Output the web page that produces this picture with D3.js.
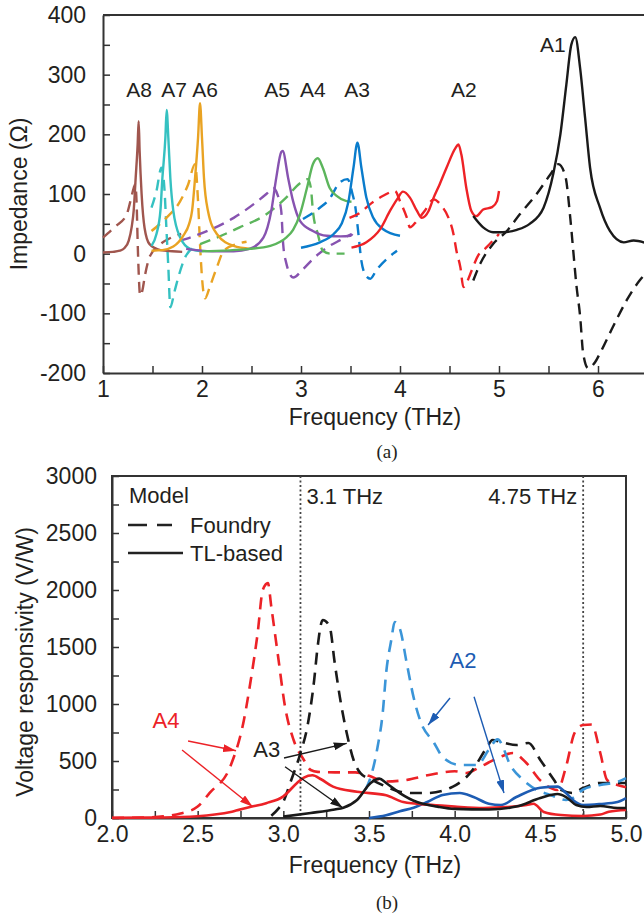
<!DOCTYPE html>
<html>
<head>
<meta charset="utf-8">
<script src="https://cdn.jsdelivr.net/npm/d3@7"></script>
<style>
  body { margin: 0; background: #fff; }
  svg text { font-family: "Liberation Sans", Arial, sans-serif; fill: #231f20; }
</style>
</head>
<body>
<div id="chart"></div>
<script>
// ---------- (a) impedance, [frequency THz, ohm] ----------
const a8Solid = [[1.0,2],[1.1,3],[1.17,5],[1.22,10],[1.26,22],[1.29,45],[1.31,72],[1.33,127],[1.35,183],[1.36,222],[1.37,172],[1.39,100],[1.42,43],[1.47,16],[1.58,6],[1.7,4],[1.8,3]];
const a8Dash  = [[1.0,27],[1.12,45],[1.24,66],[1.28,90],[1.31,110],[1.325,116],[1.34,83],[1.35,20],[1.36,-30],[1.375,-70],[1.4,-60],[1.42,-40],[1.47,-6],[1.56,13],[1.69,27],[1.79,33]];
const a7Solid = [[1.49,13],[1.54,33],[1.58,72],[1.6,127],[1.63,194],[1.643,241],[1.66,194],[1.68,127],[1.71,72],[1.78,27],[1.88,8],[2.0,4]];
const a7Dash  = [[1.49,77],[1.54,105],[1.59,144],[1.62,110],[1.64,44],[1.66,-23],[1.68,-90],[1.72,-65],[1.76,-40],[1.83,-6],[1.91,10],[1.96,14]];
const a6Solid = [[1.49,5],[1.6,6],[1.71,12],[1.81,30],[1.87,50],[1.9,72],[1.93,127],[1.96,194],[1.98,252],[2.0,194],[2.02,127],[2.06,72],[2.15,33],[2.32,13],[2.49,8]];
const a6Dash  = [[1.49,38],[1.64,60],[1.78,88],[1.86,116],[1.93,150],[1.96,88],[1.98,16],[2.0,-40],[2.03,-75],[2.08,-55],[2.15,-23],[2.22,5],[2.35,16],[2.45,20]];
const a5Solid = [[1.84,8],[2.1,4],[2.32,4],[2.48,8],[2.62,27],[2.7,72],[2.75,127],[2.8,170],[2.815,172],[2.87,127],[2.92,88],[2.99,55],[3.12,38],[3.26,30],[3.4,29],[3.5,30],[3.52,33]];
const a5Dash  = [[1.78,22],[1.98,33],[2.32,60],[2.65,100],[2.72,110],[2.76,100],[2.8,72],[2.82,16],[2.85,-15],[2.92,-40],[3.02,-26],[3.12,-9],[3.26,10],[3.41,24],[3.51,33]];
const a4Solid = [[2.0,4],[2.48,8],[2.69,13],[2.79,20],[2.85,27],[2.92,40],[2.99,66],[3.06,110],[3.12,150],[3.17,160],[3.22,144],[3.29,110],[3.36,97],[3.46,88],[3.51,87]];
const a4Dash  = [[1.98,16],[2.15,27],[2.38,44],[2.65,66],[2.85,94],[2.99,118],[3.07,125],[3.1,110],[3.12,72],[3.17,33],[3.22,5],[3.3,0],[3.44,0]];
const a3Solid = [[3.0,10],[3.19,19],[3.33,33],[3.41,50],[3.48,88],[3.53,144],[3.57,186],[3.61,144],[3.66,94],[3.73,60],[3.83,41],[4.0,30]];
const a3Dash  = [[3.02,58],[3.19,77],[3.28,90],[3.39,119],[3.47,125],[3.52,100],[3.55,77],[3.58,33],[3.61,-12],[3.66,-38],[3.7,-42],[3.76,-28],[3.93,0],[3.97,5]];
const a2Solid = [[3.51,10],[3.66,19],[3.8,41],[3.9,72],[3.97,91],[4.03,104],[4.1,94],[4.17,72],[4.22,60],[4.29,72],[4.34,94],[4.4,116],[4.47,144],[4.56,177],[4.59,183],[4.62,166],[4.67,110],[4.72,72],[4.77,63],[4.84,74],[4.93,78],[4.98,88],[5.0,105]];
const a2Dash  = [[3.49,60],[3.6,69],[3.7,83],[3.83,97],[3.95,105],[4.0,88],[4.07,60],[4.1,44],[4.17,55],[4.25,72],[4.34,91],[4.42,80],[4.49,60],[4.54,33],[4.57,5],[4.61,-23],[4.64,-56],[4.67,-50],[4.71,-34],[4.79,-3],[4.87,10],[5.0,33]];
const a1Solid = [[4.74,63],[4.84,44],[4.94,36],[5.04,36],[5.18,40],[5.31,50],[5.45,77],[5.55,135],[5.62,200],[5.68,283],[5.73,350],[5.77,363],[5.82,310],[5.87,227],[5.92,144],[6.02,77],[6.12,38],[6.26,19],[6.36,22],[6.5,17]];
const a1Dash  = [[4.74,-45],[4.81,-17],[4.94,16],[5.08,38],[5.21,66],[5.38,100],[5.52,133],[5.6,150],[5.67,130],[5.72,60],[5.75,5],[5.78,-50],[5.82,-106],[5.85,-167],[5.9,-192],[5.97,-182],[6.02,-167],[6.15,-123],[6.29,-78],[6.42,-45],[6.5,-30]];

const antNames  = ["A8","A7","A6","A5","A4","A3","A2","A1"];
const antColors = ["#a0564e","#35c1c1","#e9a323","#8753b0","#5cb55c","#0a7ccc","#ee2226","#1a1a1a"];
const antSolid  = [a8Solid,a7Solid,a6Solid,a5Solid,a4Solid,a3Solid,a2Solid,a1Solid];
const antDash   = [a8Dash,a7Dash,a6Dash,a5Dash,a4Dash,a3Dash,a2Dash,a1Dash];
// label anchor [frequency, ohm]
const antLabelPos = [[1.364,263],[1.717,263],[2.03,263],[2.758,263],[3.12,263],[3.566,263],[4.646,263],[5.545,338]];

// ---------- (b) responsivity, [frequency THz, V/W] ----------
const a4Foundry = [[2.0,0],[2.2,5],[2.3,15],[2.4,40],[2.5,100],[2.57,220],[2.69,450],[2.77,860],[2.81,1210],[2.85,1620],[2.88,2000],[2.91,2060],[2.93,1850],[2.97,1410],[3.01,975],[3.06,684],[3.12,509],[3.16,421],[3.2,405],[3.3,400],[3.42,400],[3.5,370],[3.6,320],[3.7,330],[3.85,377],[4.0,410],[4.07,395],[4.15,450],[4.27,538],[4.34,570],[4.42,480],[4.5,330],[4.6,246],[4.65,450],[4.7,746],[4.75,816],[4.8,820],[4.85,570],[4.89,333],[4.95,290],[5.0,270]];
const a4TL      = [[2.0,2],[2.3,4],[2.5,15],[2.6,30],[2.7,55],[2.8,95],[2.9,130],[3.0,190],[3.08,307],[3.12,355],[3.17,375],[3.22,340],[3.29,275],[3.43,230],[3.6,200],[3.7,140],[3.86,115],[4.0,100],[4.17,88],[4.3,95],[4.42,114],[4.46,125],[4.52,53],[4.62,26],[4.75,18],[4.85,30],[4.9,55],[5.0,70]];
const a3Foundry = [[2.93,20],[2.97,80],[3.0,143],[3.04,307],[3.1,570],[3.14,800],[3.18,1210],[3.2,1500],[3.23,1737],[3.27,1680],[3.3,1360],[3.33,1060],[3.37,746],[3.41,509],[3.45,394],[3.52,333],[3.6,275],[3.68,231],[3.76,219],[3.84,219],[3.99,275],[4.09,394],[4.19,623],[4.22,684],[4.27,667],[4.36,640],[4.43,658],[4.5,509],[4.58,333],[4.62,246],[4.69,219],[4.75,263],[4.85,307],[4.95,307],[5.0,307]];
const a3TL      = [[3.0,12],[3.16,44],[3.3,75],[3.35,90],[3.43,158],[3.51,307],[3.56,345],[3.6,307],[3.68,219],[3.78,140],[3.9,100],[4.0,80],[4.2,75],[4.36,100],[4.5,175],[4.6,210],[4.65,184],[4.71,114],[4.77,96],[4.85,105],[4.95,88],[5.0,88]];
const a2Foundry = [[3.48,250],[3.51,360],[3.55,623],[3.58,921],[3.6,1272],[3.63,1561],[3.65,1719],[3.68,1660],[3.72,1360],[3.76,1060],[3.8,850],[3.88,658],[3.93,535],[4.03,465],[4.13,465],[4.2,600],[4.25,690],[4.33,450],[4.4,333],[4.48,246],[4.56,202],[4.65,158],[4.69,175],[4.75,250],[4.85,290],[4.95,316],[5.0,350]];
const a2TL      = [[3.5,0],[3.6,25],[3.68,60],[3.76,90],[3.84,140],[3.93,202],[4.03,219],[4.11,184],[4.2,125],[4.27,114],[4.36,184],[4.5,265],[4.6,275],[4.65,219],[4.69,158],[4.75,114],[4.85,123],[4.95,140],[5.0,175]];

const markerFreqs = [3.1, 4.75];
const markerTexts = ["3.1 THz", "4.75 THz"];

// annotation arrows [from f, from v, to f, to v]
const a4Arrows = [[2.444,675,2.724,590],[2.409,596,2.821,99]];
const a3Arrows = [[3.004,526,3.37,655],[3.01,450,3.348,88]];
const a2Arrows = [[3.973,1053,3.845,816],[4.113,1064,4.288,219]];

const W = 644, H = 916;
const axisColor = "#333";

const svg = d3.select("#chart")
  .append("svg")
  .attr("width", W)
  .attr("height", H);

const defs = svg.append("defs");
function arrowMarker(id, color) {
  defs.append("marker")
    .attr("id", id)
    .attr("viewBox", "0 0 10 10")
    .attr("refX", 10).attr("refY", 5)
    .attr("markerUnits", "userSpaceOnUse")
    .attr("markerWidth", 13).attr("markerHeight", 8)
    .attr("preserveAspectRatio", "none")
    .attr("orient", "auto")
    .append("path")
    .attr("d", "M0,0 L10,5 L0,10 z")
    .attr("fill", color);
}

function styleAxis(g) {
  g.select(".domain").attr("stroke", axisColor).attr("stroke-width", 2);
  g.selectAll(".tick line").attr("stroke", axisColor).attr("stroke-width", 1.5);
  g.selectAll(".tick text").style("font-size", "23px").attr("fill", "#231f20")
    .style("font-family", "'Liberation Sans', Arial, sans-serif");
}

// ================= (a) =================
const xA = d3.scaleLinear().domain([1, 6.5]).range([103, 647.5]);
const yA = d3.scaleLinear().domain([-200, 400]).range([373, 15]);

svg.append("g")
  .attr("transform", `translate(0,${yA(-200)})`)
  .call(d3.axisBottom(xA).tickValues(d3.range(1, 6.51, 0.5))
    .tickSizeInner(-7).tickSizeOuter(0).tickPadding(8)
    .tickFormat(d => Number.isInteger(d) ? d : ""))
  .call(styleAxis);

svg.append("g")
  .attr("transform", `translate(${xA(1)},0)`)
  .call(d3.axisLeft(yA).tickValues(d3.range(-200, 401, 50))
    .tickSizeInner(-7).tickSizeOuter(0).tickPadding(17)
    .tickFormat(d => d % 100 === 0 ? d : ""))
  .call(styleAxis);

// top frame line
svg.append("line")
  .attr("x1", xA(1)).attr("x2", xA(6.5))
  .attr("y1", yA(400)).attr("y2", yA(400))
  .attr("stroke", axisColor).attr("stroke-width", 2);

const lineA = d3.line()
  .x(d => xA(d[0]))
  .y(d => yA(d[1]))
  .curve(d3.curveMonotoneX);

antNames.forEach((n, i) => {
  svg.append("path")
    .datum(antDash[i])
    .attr("d", lineA)
    .attr("fill", "none")
    .attr("stroke", antColors[i])
    .attr("stroke-width", 2.4)
    .attr("stroke-dasharray", "11,7");
});
antNames.forEach((n, i) => {
  svg.append("path")
    .datum(antSolid[i])
    .attr("d", lineA)
    .attr("fill", "none")
    .attr("stroke", antColors[i])
    .attr("stroke-width", 2.4);
});

svg.selectAll("antlabels")
  .data(antNames)
  .enter()
  .append("text")
  .attr("x", (d, i) => xA(antLabelPos[i][0]))
  .attr("y", (d, i) => yA(antLabelPos[i][1]))
  .attr("text-anchor", "middle")
  .style("font-size", "21px")
  .text(d => d);

svg.append("text")
  .attr("text-anchor", "middle")
  .attr("transform", `translate(27,${(yA(400) + yA(-200)) / 2}) rotate(-90)`)
  .style("font-size", "23px")
  .text("Impedance (\u03A9)");

svg.append("text")
  .attr("x", 375).attr("y", 425)
  .attr("text-anchor", "middle")
  .style("font-size", "23px")
  .text("Frequency (THz)");

svg.append("text")
  .attr("x", 387).attr("y", 458)
  .attr("text-anchor", "middle")
  .style("font-family", "'Liberation Serif', 'Times New Roman', serif")
  .style("font-size", "19px")
  .text("(a)");

// ================= (b) =================
const xB = d3.scaleLinear().domain([2, 5]).range([112, 626]);
const yB = d3.scaleLinear().domain([0, 3000]).range([818, 476]);

svg.append("g")
  .attr("transform", `translate(0,${yB(0)})`)
  .call(d3.axisBottom(xB).tickValues(d3.range(2, 5.01, 0.25))
    .tickSizeInner(-7).tickSizeOuter(0).tickPadding(8)
    .tickFormat(d => (d * 2) % 1 === 0 ? d3.format(".1f")(d) : ""))
  .call(styleAxis);

svg.append("g")
  .attr("transform", `translate(${xB(2)},0)`)
  .call(d3.axisLeft(yB).tickValues(d3.range(0, 3001, 250))
    .tickSizeInner(-7).tickSizeOuter(0).tickPadding(15)
    .tickFormat(d => d % 500 === 0 ? d : ""))
  .call(styleAxis);

// frame
svg.append("rect")
  .attr("x", xB(2)).attr("y", yB(3000))
  .attr("width", xB(5) - xB(2)).attr("height", yB(0) - yB(3000))
  .attr("fill", "none")
  .attr("stroke", axisColor).attr("stroke-width", 2);

// dotted markers
svg.selectAll("vmarks")
  .data(markerFreqs)
  .enter()
  .append("line")
  .attr("x1", d => xB(d)).attr("x2", d => xB(d))
  .attr("y1", yB(3000)).attr("y2", yB(0))
  .attr("stroke", "#444").attr("stroke-width", 1.8)
  .attr("stroke-dasharray", "2,2.5");

svg.append("text").attr("x", xB(markerFreqs[0]) + 6).attr("y", 504)
  .style("font-size", "22px").text(markerTexts[0]);
svg.append("text").attr("x", xB(markerFreqs[1]) - 6).attr("y", 504)
  .attr("text-anchor", "end")
  .style("font-size", "22px").text(markerTexts[1]);

// legend
svg.append("text").attr("x", 129).attr("y", 503).style("font-size", "22px").text("Model");
svg.append("line").attr("x1", 128).attr("x2", 172).attr("y1", 525).attr("y2", 525)
  .attr("stroke", "#222").attr("stroke-width", 2.6).attr("stroke-dasharray", "19,10");
svg.append("text").attr("x", 190).attr("y", 533).style("font-size", "22px").text("Foundry");
svg.append("line").attr("x1", 128).attr("x2", 183).attr("y1", 553).attr("y2", 553)
  .attr("stroke", "#222").attr("stroke-width", 2.6);
svg.append("text").attr("x", 190).attr("y", 561).style("font-size", "22px").text("TL-based");

const lineB = d3.line()
  .x(d => xB(d[0]))
  .y(d => yB(d[1]))
  .curve(d3.curveMonotoneX);

const redB = "#ec2227", blackB = "#1a1a1a", lblueB = "#3b95d8", dblueB = "#1d5cb3";

const bSeries = [
  {data: a4Foundry, color: redB, dash: true},
  {data: a3Foundry, color: blackB, dash: true},
  {data: a2Foundry, color: lblueB, dash: true},
  {data: a2TL, color: dblueB, dash: false},
  {data: a4TL, color: redB, dash: false},
  {data: a3TL, color: blackB, dash: false}
];

svg.append("g")
  .selectAll("path")
  .data(bSeries)
  .join("path")
  .attr("d", d => lineB(d.data))
  .attr("fill", "none")
  .attr("stroke", d => d.color)
  .attr("stroke-width", 2.6)
  .attr("stroke-dasharray", d => d.dash ? "12,8" : null);

// annotations
arrowMarker("arRed", redB);
arrowMarker("arBlack", blackB);
arrowMarker("arBlue", dblueB);

function drawArrows(list, color, id) {
  svg.append("g")
    .selectAll("line")
    .data(list)
    .join("line")
    .attr("x1", d => xB(d[0])).attr("y1", d => yB(d[1]))
    .attr("x2", d => xB(d[2])).attr("y2", d => yB(d[3]))
    .attr("stroke", color).attr("stroke-width", 1.4)
    .attr("marker-end", `url(#${id})`);
}
drawArrows(a4Arrows, redB, "arRed");
drawArrows(a3Arrows, blackB, "arBlack");
drawArrows(a2Arrows, dblueB, "arBlue");

svg.append("text").attr("x", xB(2.315)).attr("y", yB(790)).attr("text-anchor", "middle")
  .style("font-size", "22px").style("fill", redB).text("A4");
svg.append("text").attr("x", xB(2.903)).attr("y", yB(535)).attr("text-anchor", "middle")
  .style("font-size", "22px").text("A3");
svg.append("text").attr("x", xB(4.049)).attr("y", yB(1316)).attr("text-anchor", "middle")
  .style("font-size", "22px").style("fill", dblueB).text("A2");

svg.append("text")
  .attr("text-anchor", "middle")
  .attr("transform", `translate(33,662) rotate(-90)`)
  .style("font-size", "23px")
  .text("Voltage responsivity (V/W)");

svg.append("text")
  .attr("x", 375).attr("y", 873)
  .attr("text-anchor", "middle")
  .style("font-size", "23px")
  .text("Frequency (THz)");

svg.append("text")
  .attr("x", 387).attr("y", 909)
  .attr("text-anchor", "middle")
  .style("font-family", "'Liberation Serif', 'Times New Roman', serif")
  .style("font-size", "19px")
  .text("(b)");
</script>
</body>
</html>
